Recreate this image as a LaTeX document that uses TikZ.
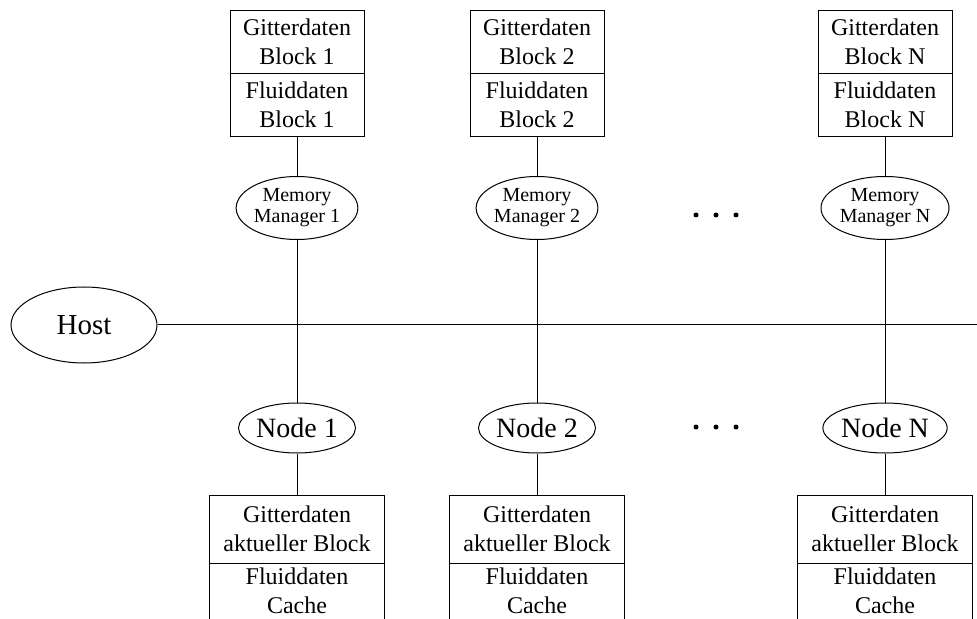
\documentclass[tikz,border=0pt]{standalone}
\usepackage{fontspec}
\setmainfont{Liberation Serif}
\usetikzlibrary{shapes.geometric, positioning}

\begin{document}
\begin{tikzpicture}[x=0.5pt, y=-0.5pt, node distance=31.5pt, line width=0.5pt]
	\tikzstyle{every node}=[inner sep=0pt]
	\tikzstyle{datenbox}=[draw, align=center, minimum width=67pt, minimum height=31.5pt, font=\fontsize{12}{14.5}\selectfont]
	\tikzstyle{cachebox}=[datenbox, minimum width=87.5pt, minimum height=34pt]
	\tikzstyle{knoten}=[draw, ellipse, align=center]
	\tikzstyle{manager}=[knoten, minimum width=60.5pt, minimum height=31.5pt, font=\fontsize{10}{10.5}\selectfont]
	\tikzstyle{rechner}=[knoten, minimum width=58.5pt, minimum height=25pt, font=\fontsize{14}{16}\selectfont]

	\useasboundingbox (0,0) rectangle (977,619);

	\node[knoten, minimum width=73pt, minimum height=38pt, font=\fontsize{14.5}{16}\selectfont] (host) at (84,325) {Host};
	\coordinate (bus) at (977,325);

	% Memory Manager
	\node[manager] (mm1) at (297,208) {Memory\\Manager 1};
	\node[manager, right of=mm1, node distance=120pt] (mm2) {Memory\\Manager 2};
	\node[manager, right of=mm2, node distance=174pt] (mmN) {Memory\\Manager N};

	% Bloecke oben
	\node[datenbox, above of=mm1, node distance=51.5pt] (fluid1) {Fluiddaten\\Block 1};
	\node[datenbox, above of=fluid1] (gitter1) {Gitterdaten\\Block 1};
	\node[datenbox, above of=mm2, node distance=51.5pt] (fluid2) {Fluiddaten\\Block 2};
	\node[datenbox, above of=fluid2] (gitter2) {Gitterdaten\\Block 2};
	\node[datenbox, above of=mmN, node distance=51.5pt] (fluidN) {Fluiddaten\\Block N};
	\node[datenbox, above of=fluidN] (gitterN) {Gitterdaten\\Block N};

	% Rechenknoten
	\node[rechner, below of=mm1, node distance=110pt] (node1) {Node 1};
	\node[rechner, below of=mm2, node distance=110pt] (node2) {Node 2};
	\node[rechner, below of=mmN, node distance=110pt] (nodeN) {Node N};

	% Bloecke unten
	\node[cachebox, below of=node1, node distance=50.5pt] (akt1) {Gitterdaten\\aktueller Block};
	\node[cachebox, below of=akt1, node distance=34pt, text depth=6pt] (cache1) {Fluiddaten\\Cache};
	\node[cachebox, below of=node2, node distance=50.5pt] (akt2) {Gitterdaten\\aktueller Block};
	\node[cachebox, below of=akt2, node distance=34pt, text depth=6pt] (cache2) {Fluiddaten\\Cache};
	\node[cachebox, below of=nodeN, node distance=50.5pt] (aktN) {Gitterdaten\\aktueller Block};
	\node[cachebox, below of=aktN, node distance=34pt, text depth=6pt] (cacheN) {Fluiddaten\\Cache};

	\draw (host) -- (bus);
	\draw (fluid1) -- (mm1) -- (node1) -- (akt1);
	\draw (fluid2) -- (mm2) -- (node2) -- (akt2);
	\draw (fluidN) -- (mmN) -- (nodeN) -- (aktN);

	% Punkte
	\foreach \y in {215,427}
		\foreach \x in {696,716,736}
			\fill (\x,\y) circle (2.5);
\end{tikzpicture}
\end{document}
